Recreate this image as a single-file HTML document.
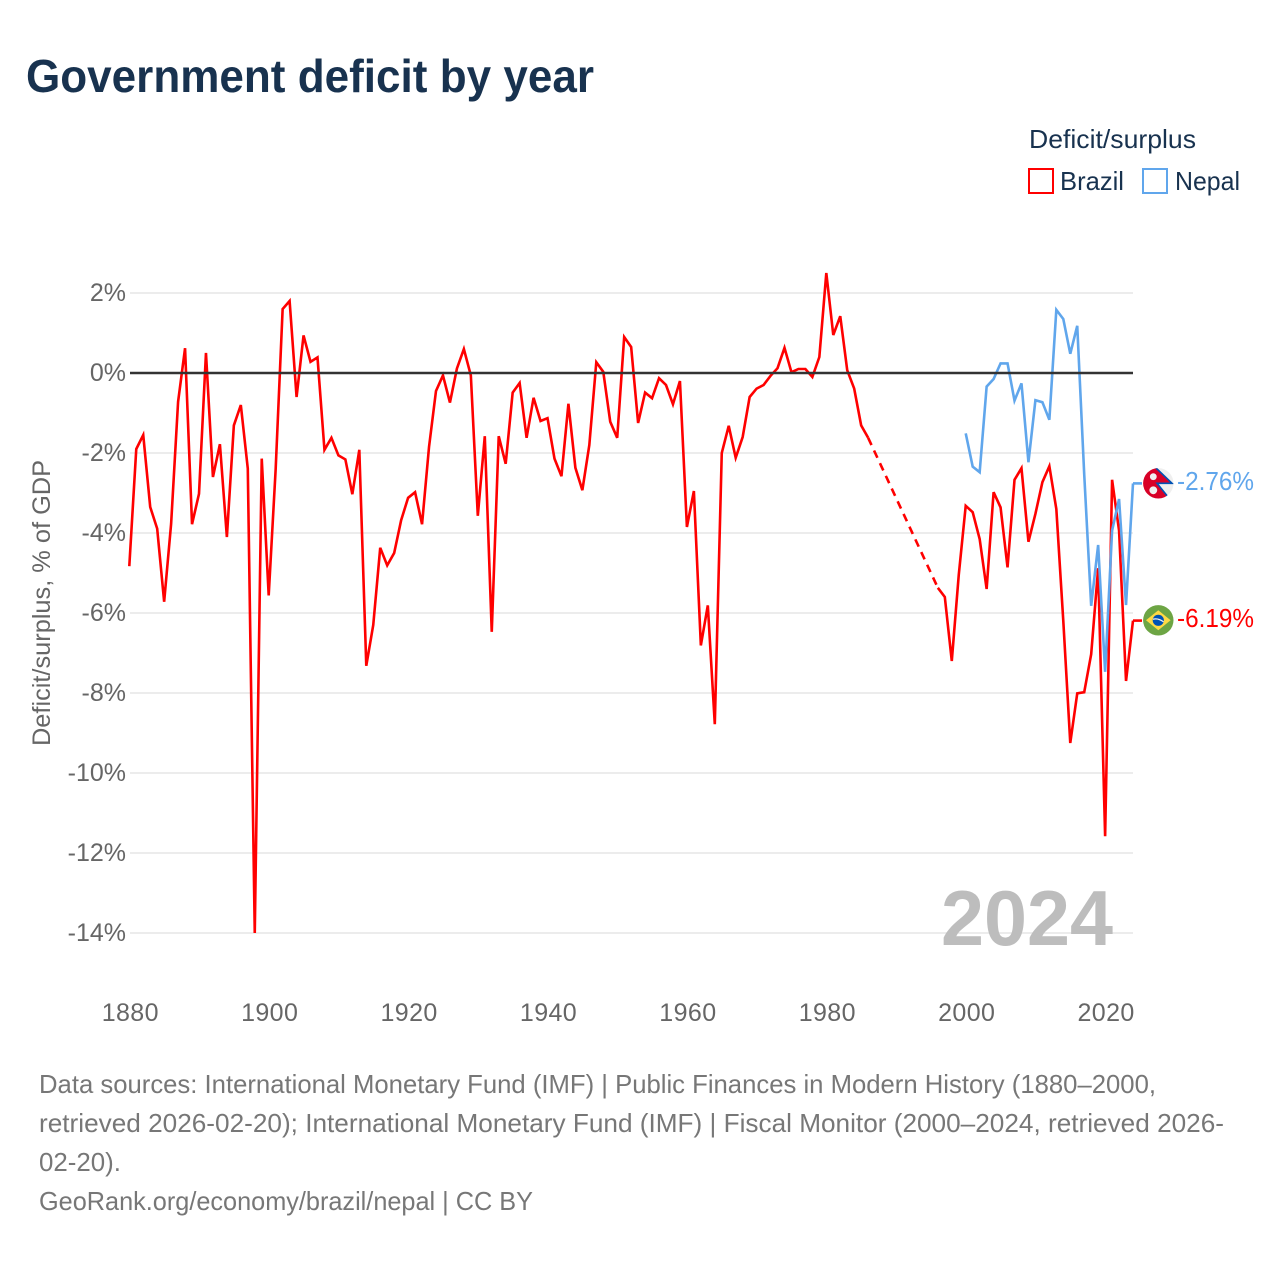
<!DOCTYPE html>
<html lang="en">
<head>
<meta charset="utf-8">
<title>Government deficit by year</title>
<style>
html,body{margin:0;padding:0;background:#fff;}
svg{display:block;font-family:"Liberation Sans",sans-serif;}
</style>
</head>
<body>
<svg id="chart" xmlns="http://www.w3.org/2000/svg" width="1280" height="1280" viewBox="0 0 1280 1280">
  <rect x="0" y="0" width="1280" height="1280" fill="#ffffff"/>
  <text x="26" y="92" font-size="46" font-weight="700" fill="#18324f" textLength="568" lengthAdjust="spacingAndGlyphs">Government deficit by year</text>

  <g>
    <text x="1029" y="148" font-size="26" fill="#18324f" textLength="167" lengthAdjust="spacingAndGlyphs">Deficit/surplus</text>
    <g>
      <rect x="1029" y="169" width="24" height="24" fill="#fff" stroke="#ff0000" stroke-width="2"/>
      <text x="1060" y="190" font-size="26" fill="#18324f" textLength="64" lengthAdjust="spacingAndGlyphs">Brazil</text>
    </g>
    <g>
      <rect x="1143" y="169" width="24" height="24" fill="#fff" stroke="#60a6ec" stroke-width="2"/>
      <text x="1175" y="190" font-size="26" fill="#18324f" textLength="65" lengthAdjust="spacingAndGlyphs">Nepal</text>
    </g>
  </g>

  <text transform="translate(50,603) rotate(-90)" text-anchor="middle" font-size="25" fill="#666666" textLength="286" lengthAdjust="spacingAndGlyphs">Deficit/surplus, % of GDP</text>

  <g id="grid"></g>
  <g id="yticks"></g>
  <g id="xticks"></g>

  <text x="941" y="945" font-size="78" font-weight="700" fill="#bdbdbd" textLength="172" lengthAdjust="spacingAndGlyphs">2024</text>

  <g id="series"></g>
  <line id="zero" stroke="#333333" stroke-width="2.4"/>

  <g>
    <defs>
      <clipPath id="nepal-clip"><circle cx="1158.3" cy="483.3" r="15.2"/></clipPath>
    </defs>
    <g clip-path="url(#nepal-clip)">
      <rect x="1143" y="468" width="31" height="31" fill="#efefef"/>
      <polygon points="1143,467 1156,467 1172.7,483.3 1156.7,483.3 1169,499 1143,499" fill="#d80027"/>
      <polyline points="1156,468 1172,483.3 1157,483.3 1168.5,497.5" fill="none" stroke="#0052b4" stroke-width="1.6"/>
      <circle cx="1153.3" cy="476.7" r="3.4" fill="#f0f0f0"/>
      <circle cx="1153.3" cy="490.3" r="3.9" fill="#f0f0f0"/>
    </g>
    <text id="label-nepal" x="1177" y="490" font-size="26" fill="#60a6ec" textLength="77" lengthAdjust="spacingAndGlyphs"></text>
  </g>

  <g>
    <defs>
      <clipPath id="brazil-clip"><circle cx="1158.3" cy="620.3" r="15.2"/></clipPath>
    </defs>
    <g clip-path="url(#brazil-clip)">
      <rect x="1143" y="605" width="31" height="31" fill="#6da544"/>
      <polygon points="1146,620.3 1158.3,610.3 1170.6,620.3 1158.3,630.3" fill="#ffda44"/>
      <circle cx="1158.3" cy="620.3" r="5.6" fill="#0052b4"/>
      <path d="M1153,619.3 Q1158,617.8 1163.6,621.9" fill="none" stroke="#f0f0f0" stroke-width="1.3"/>
    </g>
    <text id="label-brazil" x="1177" y="627" font-size="26" fill="#ff0000" textLength="77" lengthAdjust="spacingAndGlyphs"></text>
  </g>

  <g font-size="26" fill="#777777">
    <text x="39" y="1093" textLength="1117" lengthAdjust="spacingAndGlyphs">Data sources: International Monetary Fund (IMF) | Public Finances in Modern History (1880–2000,</text>
    <text x="39" y="1132" textLength="1185" lengthAdjust="spacingAndGlyphs">retrieved 2026-02-20); International Monetary Fund (IMF) | Fiscal Monitor (2000–2024, retrieved 2026-</text>
    <text x="39" y="1171" textLength="82" lengthAdjust="spacingAndGlyphs">02-20).</text>
    <text x="39" y="1210" textLength="494" lengthAdjust="spacingAndGlyphs">GeoRank.org/economy/brazil/nepal | CC BY</text>
  </g>
</svg>

<script>
const firstYear = 1880;
const lastYear = 2024;
const brazilValues = [
  -4.83,-1.9,-1.55,-3.35,-3.89,-5.72,-3.77,-0.72,0.62,-3.78,
  -3.02,0.5,-2.6,-1.78,-4.1,-1.31,-0.8,-2.39,-14,-2.14,
  -5.56,-2.4,1.6,1.8,-0.6,0.94,0.28,0.39,-1.92,-1.62,
  -2.06,-2.16,-3.03,-1.92,-7.32,-6.3,-4.37,-4.81,-4.5,-3.68,
  -3.12,-2.98,-3.78,-1.85,-0.45,-0.06,-0.74,0.11,0.6,-0.06,
  -3.57,-1.58,-6.47,-1.58,-2.27,-0.49,-0.25,-1.62,-0.62,-1.2,
  -1.13,-2.14,-2.58,-0.77,-2.37,-2.93,-1.8,0.27,0.03,-1.22,
  -1.62,0.9,0.65,-1.25,-0.49,-0.63,-0.13,-0.3,-0.78,-0.2,
  -3.85,-2.95,-6.81,-5.81,-8.78,-2,-1.32,-2.12,-1.6,-0.6,
  -0.39,-0.3,-0.07,0.12,0.63,0.02,0.1,0.1,-0.1,0.4,
  2.5,0.95,1.42,0.07,-0.39,-1.31,-1.62,null,null,null,
  null,null,null,null,null,null,-5.37,-5.6,-7.2,-5.05,
  -3.32,-3.48,-4.15,-5.4,-2.98,-3.36,-4.86,-2.67,-2.38,-4.22,
  -3.52,-2.73,-2.33,-3.4,-6.2,-9.25,-8.01,-7.98,-7.03,-4.88,
  -11.58,-2.67,-3.94,-7.7,-6.19
];
const nepalFirstYear = 2000;
const nepalValues = [
  -1.51,-2.34,-2.48,-0.34,-0.15,0.24,0.24,-0.69,-0.26,-2.23,
  -0.68,-0.73,-1.17,1.58,1.35,0.48,1.18,-2.53,-5.82,-4.3,
  -7.47,-3.94,-3.15,-5.8,-2.76
];
const yTickValues = [2,0,-2,-4,-6,-8,-10,-12,-14];
const xTickYears = [1880,1900,1920,1940,1960,1980,2000,2020];

const SVGNS = 'http://www.w3.org/2000/svg';
const plotLeft = 129.3;
const plotRight = 1133;
function xScale(year){ return plotLeft + (year - firstYear) * (plotRight - plotLeft) / (lastYear - firstYear); }
function yScale(v){ return 373 - v * 40; }
function fmtPct(v){ return v.toFixed(2) + '%'; }

const gridG = document.getElementById('grid');
const yG = document.getElementById('yticks');
const xG = document.getElementById('xticks');
const seriesG = document.getElementById('series');

yTickValues.forEach(function(v){
  if (v !== 0) {
    const gl = document.createElementNS(SVGNS, 'line');
    
    
    gl.setAttribute('x1', 130);
    gl.setAttribute('x2', plotRight);
    gl.setAttribute('y1', yScale(v));
    gl.setAttribute('y2', yScale(v));
    gl.setAttribute('stroke', '#e6e6e6');
    gl.setAttribute('stroke-width', '1.5');
    gridG.appendChild(gl);
  }
  const t = document.createElementNS(SVGNS, 'text');
  
  
  t.setAttribute('x', 126);
  t.setAttribute('y', yScale(v) + 8);
  t.setAttribute('text-anchor', 'end');
  t.setAttribute('font-size', '25');
  t.setAttribute('fill', '#666666');
  t.textContent = v + '%';
  yG.appendChild(t);
});

xTickYears.forEach(function(yr){
  const t = document.createElementNS(SVGNS, 'text');
  
  
  t.setAttribute('x', xScale(yr) + 1);
  t.setAttribute('y', 1021);
  t.setAttribute('text-anchor', 'middle');
  t.setAttribute('font-size', '25');
  t.setAttribute('letter-spacing', '0.4');
  t.setAttribute('fill', '#666666');
  t.textContent = String(yr);
  xG.appendChild(t);
});

function addPath(points, color, dash, name){
  const p = document.createElementNS(SVGNS, 'polyline');
  
  
  p.setAttribute('points', points.map(function(q){ return q[0].toFixed(2) + ',' + q[1].toFixed(2); }).join(' '));
  p.setAttribute('fill', 'none');
  p.setAttribute('stroke', color);
  p.setAttribute('stroke-width', '2.6');
  if (dash) p.setAttribute('stroke-dasharray', dash);
  seriesG.appendChild(p);
}

function drawSeries(values, startYear, color, name){
  let seg = [];
  let lastPoint = null;
  values.forEach(function(v, i){
    const yr = startYear + i;
    if (v === null) {
      if (seg.length) { addPath(seg, color, null, name + '-line'); seg = []; }
      return;
    }
    const pt = [xScale(yr), yScale(v)];
    if (!seg.length && lastPoint) { addPath([lastPoint, pt], color, '8 6', name + '-gap-line'); }
    seg.push(pt);
    lastPoint = pt;
  });
  if (seg.length) addPath(seg, color, null, name + '-line');
  addPath([lastPoint, [lastPoint[0] + 9, lastPoint[1]]], color, null, name + '-leader');
}

drawSeries(brazilValues, firstYear, '#ff0000', 'brazil');
drawSeries(nepalValues, nepalFirstYear, '#60a6ec', 'nepal');

const zero = document.getElementById('zero');
zero.setAttribute('x1', 130);
zero.setAttribute('x2', plotRight);
zero.setAttribute('y1', yScale(0));
zero.setAttribute('y2', yScale(0));

document.getElementById('label-nepal').textContent = fmtPct(nepalValues[nepalValues.length - 1]);
document.getElementById('label-brazil').textContent = fmtPct(brazilValues[brazilValues.length - 1]);
</script>
</body>
</html>
